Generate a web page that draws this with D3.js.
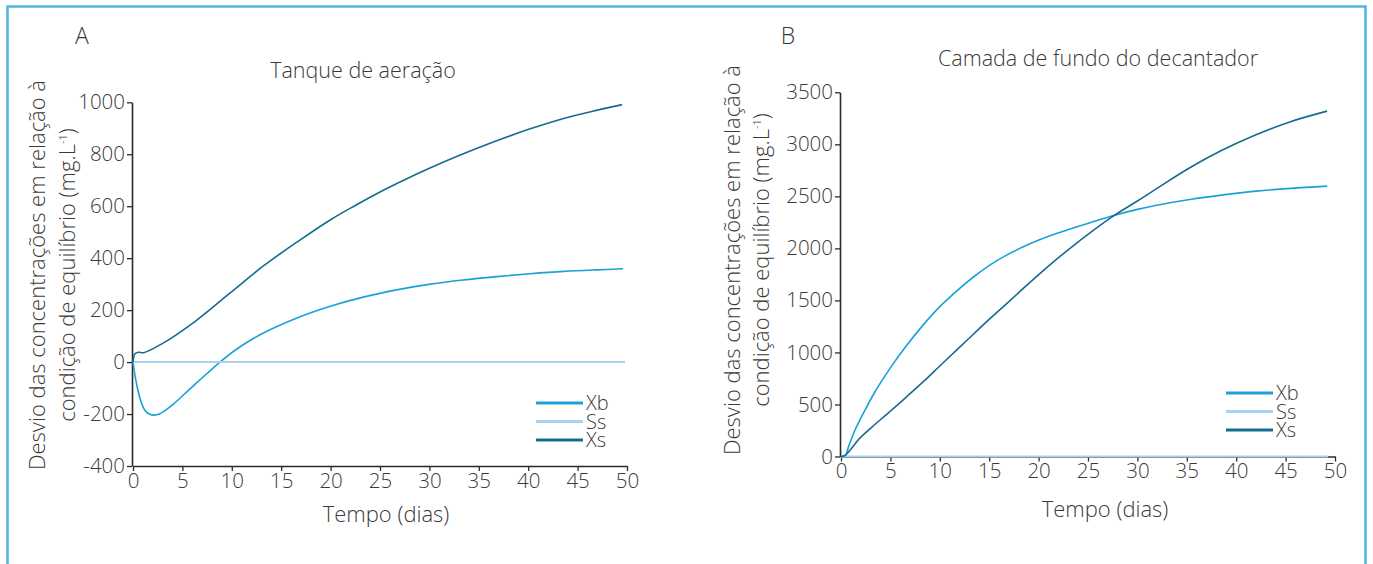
<!DOCTYPE html>
<html>
<head>
<meta charset="utf-8">
<script src="https://cdn.jsdelivr.net/npm/d3@7/dist/d3.min.js"></script>
<style>
  html, body { margin: 0; padding: 0; background: #fff; }
  svg text { font-family: "Open Sans", "Lato", sans-serif; font-weight: 300; fill: #3a3a3a; }
</style>
</head>
<body>
<svg id="chart" width="1373" height="564"></svg>
<script>
// ---------- Data ----------
const xTicks = [0, 5, 10, 15, 20, 25, 30, 35, 40, 45, 50];
const aYTicks = [-400, -200, 0, 200, 400, 600, 800, 1000];
const bYTicks = [0, 500, 1000, 1500, 2000, 2500, 3000, 3500];
const seriesNames = ["Xb", "Ss", "Xs"];
const seriesColors = ["#1aa1d9", "#a9d3ec", "#146c8e"];

// Panel A – Tanque de aeração
const aXbT = [0, 0.2, 0.54, 0.88, 1.25, 1.7, 2.1, 2.73, 4.08, 5.77, 7.46, 8.8, 10.8, 13.2, 16.6, 19.9, 23.3, 26.7, 30.1, 33.4, 36.8, 40.2, 43.6, 46.9, 49.6];
const aXbV = [0, -51, -115, -160, -188, -201, -204, -199, -162, -103, -45, 0, 58, 112, 170, 214, 250, 278, 300, 316, 329, 340, 349, 355, 359];
const aSsT = [0, 49.8];
const aSsV = [0, 0];
const aXsT = [0, 0.2, 0.54, 1.05, 3.0, 6.4, 9.8, 13.2, 16.6, 20, 22.5, 25, 27.5, 30, 33, 36.8, 40.2, 43.6, 46.9, 49.5];
const aXsV = [0, 32, 38, 36, 72, 160, 265, 370, 462, 548, 603, 655, 702, 746, 795, 852, 898, 938, 969, 991];

// Panel B – Camada de fundo do decantador
const bXbT = [0, 0.4, 0.75, 1.4, 2.4, 3.4, 4.96, 6.5, 8.33, 10, 11.7, 13.4, 15.1, 16.8, 18.45, 20.1, 21.8, 23.5, 25.2, 27.7, 30, 31.95, 35.3, 38.5, 42, 45.5, 49.2];
const bXbV = [0, 0, 90, 250, 440, 615, 847, 1050, 1265, 1440, 1590, 1725, 1842, 1938, 2015, 2082, 2142, 2196, 2247, 2319, 2375, 2415, 2470, 2512, 2550, 2577, 2598];
const bSsT = [0, 49.3];
const bSsV = [0, 0];
const bXsT = [0, 0.4, 1.08, 1.75, 3.1, 4.8, 6.3, 8.33, 10, 11.7, 13.4, 15.1, 16.8, 18.45, 20.1, 21.8, 23.5, 25.2, 27.7, 30, 31.95, 35.3, 38.5, 42, 45.5, 49.2];
const bXsV = [0, 10, 80, 160, 280, 420, 545, 719, 870, 1023, 1175, 1327, 1472, 1615, 1755, 1894, 2025, 2149, 2319, 2455, 2575, 2775, 2940, 3092, 3218, 3319];

const panels = [
  {
    letter: "A", title: "Tanque de aeração",
    yTicks: aYTicks, yDomain: [-400, 1000],
    series: [[aXbT, aXbV], [aSsT, aSsV], [aXsT, aXsV]],
    x0: 133, x1: 627, yTop: 102.3, yBot: 466,
    letterPos: [82, 44], titlePos: [363, 78],
    yLabelX: [45, 75], yLabelCy: 275,
    xLabelPos: [386, 522],
    legendX: 536, legendY: 403
  },
  {
    letter: "B", title: "Camada de fundo do decantador",
    yTicks: bYTicks, yDomain: [0, 3500],
    series: [[bXbT, bXbV], [bSsT, bSsV], [bXsT, bXsV]],
    x0: 841, x1: 1335, yTop: 92.3, yBot: 456.5,
    letterPos: [788, 44], titlePos: [1098, 66],
    yLabelX: [740, 769], yLabelCy: 260,
    xLabelPos: [1105, 517],
    legendX: 1226, legendY: 393
  }
];

const svg = d3.select("#chart");

// outer frame
svg.append("path")
  .attr("d", "M7.5,600 L7.5,6.5 L1365.5,6.5 L1365.5,600")
  .attr("fill", "none")
  .attr("stroke", "#4cb6df")
  .attr("stroke-width", 2.5);

panels.forEach(p => {
  const x = d3.scaleLinear().domain([0, 50]).range([p.x0, p.x1]);
  const y = d3.scaleLinear().domain(p.yDomain).range([p.yBot, p.yTop]);
  const g = svg.append("g");

  // axes
  const xAxis = g.append("g")
    .attr("transform", `translate(0,${p.yBot})`)
    .call(d3.axisBottom(x).tickValues(xTicks).tickFormat(d => String(d))
      .tickSize(5).tickSizeOuter(0).tickPadding(2));
  const yAxis = g.append("g")
    .attr("transform", `translate(${p.x0 - 1},0)`)
    .call(d3.axisLeft(y).tickValues(p.yTicks).tickFormat(d => String(d))
      .tickSize(5).tickSizeOuter(0).tickPadding(2));
  [xAxis, yAxis].forEach(ax => {
    ax.select(".domain").attr("stroke", "#2b2b2b").attr("stroke-width", 1.6);
    ax.selectAll(".tick line").attr("stroke", "#2b2b2b").attr("stroke-width", 1.3);
    ax.selectAll(".tick text")
      .style("font-size", "20.5px")
      .style("font-family", "'Open Sans', Lato, sans-serif")
      .style("font-weight", 300)
      .attr("fill", "#3a3a3a");
  });

  // lines
  const line = d3.line()
    .x(d => x(d[0]))
    .y(d => y(d[1]))
    .curve(d3.curveCatmullRom.alpha(0.5));
  p.series.forEach((s, i) => {
    const pts = s[0].map((t, k) => [t, s[1][k]]);
    g.append("path")
      .datum(pts)
      .attr("fill", "none")
      .attr("stroke", seriesColors[i])
      .attr("stroke-width", i === 1 ? 2 : 1.6)
      .attr("d", line);
  });

  // letter & title
  g.append("text").attr("x", p.letterPos[0]).attr("y", p.letterPos[1])
    .attr("text-anchor", "middle").style("font-size", "23px").text(p.letter);
  g.append("text").attr("x", p.titlePos[0]).attr("y", p.titlePos[1])
    .attr("text-anchor", "middle").style("font-size", "21.5px").text(p.title);

  // y label
  const yl = g.append("g");
  yl.append("text")
    .attr("transform", `translate(${p.yLabelX[0]},${p.yLabelCy}) rotate(-90)`)
    .attr("text-anchor", "middle").style("font-size", "22px")
    .text("Desvio das concentrações em relação à");
  const t2 = yl.append("text")
    .attr("transform", `translate(${p.yLabelX[1]},${p.yLabelCy}) rotate(-90)`)
    .attr("text-anchor", "middle").style("font-size", "22px");
  t2.append("tspan").text("condição de equilíbrio (mg.L");
  t2.append("tspan").attr("dy", -8).style("font-size", "11px").text("-1");
  t2.append("tspan").attr("dy", 8).text(")");

  // x label
  g.append("text").attr("x", p.xLabelPos[0]).attr("y", p.xLabelPos[1])
    .attr("text-anchor", "middle").style("font-size", "22px").text("Tempo (dias)");

  // legend
  seriesNames.forEach((n, i) => {
    const ly = p.legendY + i * 18.5;
    g.append("line")
      .attr("x1", p.legendX).attr("x2", p.legendX + 47)
      .attr("y1", ly).attr("y2", ly)
      .attr("stroke", seriesColors[i]).attr("stroke-width", 3);
    g.append("text").attr("x", p.legendX + 50).attr("y", ly + 7)
      .style("font-size", "20px").text(n);
  });
});
</script>
</body>
</html>
